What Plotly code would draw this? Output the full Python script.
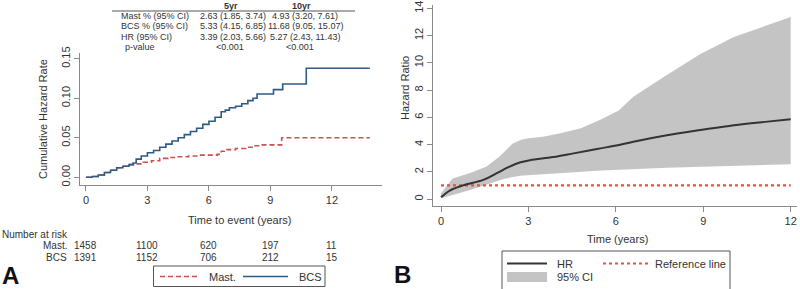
import plotly.graph_objects as go

W, H = 800, 289
FONT = "Liberation Sans, Arial, sans-serif"

# ---------------- Panel A data (cumulative hazard, step functions) ----------------
bcs_t = [0, 0.3, 0.6, 0.9, 1.2, 1.5, 1.8, 2.1, 2.3, 2.45, 2.7, 3.0, 3.3, 3.6, 3.9, 4.2,
         4.5, 4.8, 5.1, 5.4, 5.7, 6.0, 6.3, 6.6, 6.8, 7.0, 7.3, 7.6, 7.9, 8.15, 8.35,
         9.15, 9.6, 10.75, 13.85]
bcs_v = [0, 0.001, 0.003, 0.006, 0.009, 0.012, 0.014, 0.016, 0.018, 0.023, 0.027, 0.031,
         0.034, 0.038, 0.042, 0.046, 0.050, 0.054, 0.058, 0.062, 0.067, 0.071, 0.076,
         0.083, 0.085, 0.088, 0.090, 0.093, 0.097, 0.100, 0.1055, 0.111, 0.118, 0.138, 0.138]

mast_t = [0, 0.3, 0.6, 0.9, 1.2, 1.5, 1.8, 2.1, 2.4, 2.8, 3.2, 3.6, 4.0, 4.5, 5.0, 5.5,
          6.4, 6.6, 6.75, 7.3, 7.8, 8.2, 8.5, 9.55, 13.85]
mast_v = [0, 0.001, 0.003, 0.006, 0.009, 0.012, 0.014, 0.016, 0.017, 0.019, 0.021, 0.024,
          0.025, 0.026, 0.027, 0.028, 0.029, 0.033, 0.035, 0.0365, 0.038, 0.040, 0.041,
          0.050, 0.050]

risk_times = [0, 3, 6, 9, 12]
risk_mast = [1458, 1100, 620, 197, 11]
risk_bcs = [1391, 1152, 706, 212, 15]

table_rows = ["Mast % (95% CI)", "BCS % (95% CI)", "HR (95% CI)", "p-value"]
table_5yr = ["2.63 (1.85, 3.74)", "5.33 (4.15, 6.85)", "3.39 (2.03, 5.66)", "<0.001"]
table_10yr = ["4.93 (3.20, 7.61)", "11.68 (9.05, 15.07)", "5.27 (2.43, 11.43)", "<0.001"]

# ---------------- Panel B data (time-varying hazard ratio) ----------------
hr_t = [0, 0.3, 0.75, 1.45, 1.9, 2.35, 2.7, 3.05, 3.85, 4.55, 5.35, 6.15, 6.6, 7.75,
        8.9, 10.05, 11.2, 12.0]
hr_v = [0.12, 0.62, 1.0, 1.4, 1.88, 2.37, 2.68, 2.85, 3.08, 3.35, 3.67, 3.98, 4.2, 4.68,
        5.06, 5.42, 5.68, 5.85]
ci_up_t = [0, 0.4, 1.0, 1.55, 2.0, 2.45, 2.75, 3.0, 3.5, 4.1, 4.8, 5.45, 6.1, 6.6, 7.75,
           8.9, 10.05, 11.2, 12.0]
ci_up = [0.42, 1.5, 1.9, 2.37, 3.1, 4.05, 4.35, 4.45, 4.57, 4.82, 5.2, 5.8, 6.5, 7.5,
         9.1, 10.65, 11.9, 12.75, 13.35]
ci_lo_t = [0, 0.4, 1.0, 1.55, 2.15, 2.7, 3.3, 4.4, 5.5, 7.75, 10.05, 12.0]
ci_lo = [0.05, 0.29, 0.66, 1.03, 1.47, 1.71, 1.84, 1.96, 2.1, 2.3, 2.45, 2.55]
ref_t = [0, 12]
ref_v = [1, 1]

# styles
MAST_C, BCS_C = "#c8524f", "#2e5a88"
HR_C, CI_C, REF_C = "#333333", "#c4c4c4", "#e8503c"
MAST_DASH = "5px,3px"


def py(p):
    return (H - p) / H


def px(p):
    return p / W


fig = go.Figure()

# Panel A traces
fig.add_trace(go.Scatter(x=mast_t, y=mast_v, mode="lines", line_shape="hv",
                         line=dict(color=MAST_C, width=1.6, dash=MAST_DASH),
                         name="Mast.", xaxis="x", yaxis="y", showlegend=False))
fig.add_trace(go.Scatter(x=bcs_t, y=bcs_v, mode="lines", line_shape="hv",
                         line=dict(color=BCS_C, width=1.6),
                         name="BCS", xaxis="x", yaxis="y", showlegend=False))

# Panel B traces
fig.add_trace(go.Scatter(x=ci_up_t + ci_lo_t[::-1], y=ci_up + ci_lo[::-1], fill="toself",
                         fillcolor=CI_C, line=dict(width=0), mode="lines",
                         name="95% CI", xaxis="x2", yaxis="y2", showlegend=False))
fig.add_trace(go.Scatter(x=ref_t, y=ref_v, mode="lines",
                         line=dict(color=REF_C, width=2.2, dash="dot"),
                         name="Reference line", xaxis="x2", yaxis="y2", showlegend=False))
fig.add_trace(go.Scatter(x=hr_t, y=hr_v, mode="lines", line_shape="spline",
                         line=dict(color=HR_C, width=2),
                         name="HR", xaxis="x2", yaxis="y2", showlegend=False))

axis_common = dict(showline=True, linecolor="#8a8a8a", linewidth=1, ticks="outside",
                   ticklen=5, tickcolor="#8a8a8a", showgrid=False, zeroline=False,
                   tickfont=dict(size=11, color="#333333", family=FONT))

fig.update_layout(
    width=W, height=H, margin=dict(l=0, r=0, t=0, b=0, autoexpand=False),
    paper_bgcolor="white", plot_bgcolor="white", showlegend=False,
    font=dict(family=FONT, color="#333333", size=10),
    xaxis=dict(domain=[px(80), px(381.7)], range=[-0.29, 14.43], anchor="y",
               tickvals=[0, 3, 6, 9, 12], **axis_common),
    yaxis=dict(domain=[py(185), py(53)], range=[-0.00975, 0.1573], anchor="x",
               tickvals=[0, 0.05, 0.10, 0.15], tickformat=".2f", tickangle=-90,
               **axis_common),
    xaxis2=dict(domain=[px(433), px(797)], range=[-0.2745, 12.217], anchor="y2",
                tickvals=[0, 3, 6, 9, 12], **axis_common),
    yaxis2=dict(domain=[py(206), py(5)], range=[-0.514, 14.24], anchor="x2",
                tickvals=list(range(0, 15, 2)), tickangle=-90, **axis_common),
)

ann = []


def add_text(text, x, y, xanchor="center", xref="paper", size=10, angle=0, color=None):
    d = dict(text=text, x=x, y=py(y), xref=xref, yref="paper", xanchor=xanchor,
             yanchor="middle", showarrow=False, textangle=angle, font=dict(size=size))
    if color:
        d["font"]["color"] = color
    ann.append(d)


# axis titles
add_text("Cumulative Hazard Rate", px(43), 119, angle=-90, size=11)
add_text("Time to event (years)", px(240), 220, size=11)
add_text("Hazard Ratio", px(405), 88, angle=-90, size=11)
add_text("Time (years)", px(617), 239, size=11)
# panel letters
add_text("<b>A</b>", px(0), 275, xanchor="left", size=24, color="#111111")
add_text("<b>B</b>", px(392), 274, xanchor="left", size=24, color="#111111")
# number at risk
add_text("Number at risk", px(0), 234, xanchor="left")
add_text("Mast.", px(69), 246, xanchor="right")
add_text("BCS", px(69), 257, xanchor="right")
for t, m, b in zip(risk_times, risk_mast, risk_bcs):
    add_text(str(m), t, 246, xref="x")
    add_text(str(b), t, 257, xref="x")
# table
add_text("<b>5yr</b>", px(231), 6, size=9)
add_text("<b>10yr</b>", px(301), 6, size=9)
row_y = [16, 26.5, 37, 47.5]
for i, (lab, a, b) in enumerate(zip(table_rows, table_5yr, table_10yr)):
    add_text(lab, px(119 if i < 3 else 123), row_y[i], xanchor="left", size=9)
    add_text(a, px(233 if i < 3 else 230), row_y[i], size=9)
    add_text(b, px(305 if i < 3 else 300), row_y[i], size=9)

# legend labels
add_text("Mast.", px(207), 276.5, xanchor="left", size=11)
add_text("BCS", px(297), 276.5, xanchor="left", size=11)
add_text("HR", px(555), 263.5, xanchor="left", size=11)
add_text("Reference line", px(653), 263.5, xanchor="left", size=11)
add_text("95% CI", px(555), 277, xanchor="left", size=11)
fig.update_layout(annotations=ann)

shapes = []


def pline(x0, x1, y0, y1, **line):
    shapes.append(dict(type="line", xref="paper", yref="paper", x0=px(x0), x1=px(x1),
                       y0=py(y0), y1=py(y1), line=line))


# table header rule
pline(112, 355, 11, 11, color="#555555", width=1)
# legend A
shapes.append(dict(type="rect", xref="paper", yref="paper", x0=px(153.5), x1=px(325),
                   y0=py(286.5), y1=py(266), line=dict(color="#555555", width=1),
                   fillcolor="white"))
pline(160, 200, 276.5, 276.5, color=MAST_C, width=1.6, dash=MAST_DASH)
pline(243, 288, 276.5, 276.5, color=BCS_C, width=1.6)
# legend B
shapes.append(dict(type="rect", xref="paper", yref="paper", x0=px(502), x1=px(730),
                   y0=py(292), y1=py(251), line=dict(color="#555555", width=1),
                   fillcolor="white"))
pline(507, 547, 263.5, 263.5, color=HR_C, width=2)
pline(603, 648, 263.5, 263.5, color=REF_C, width=2.2, dash="dot")
shapes.append(dict(type="rect", xref="paper", yref="paper", x0=px(507), x1=px(547),
                   y0=py(282), y1=py(272), line=dict(width=0), fillcolor=CI_C))
fig.update_layout(shapes=shapes)

fig.write_html("out.html", config={"displayModeBar": False},
               post_script="document.body.style.margin='0';")
